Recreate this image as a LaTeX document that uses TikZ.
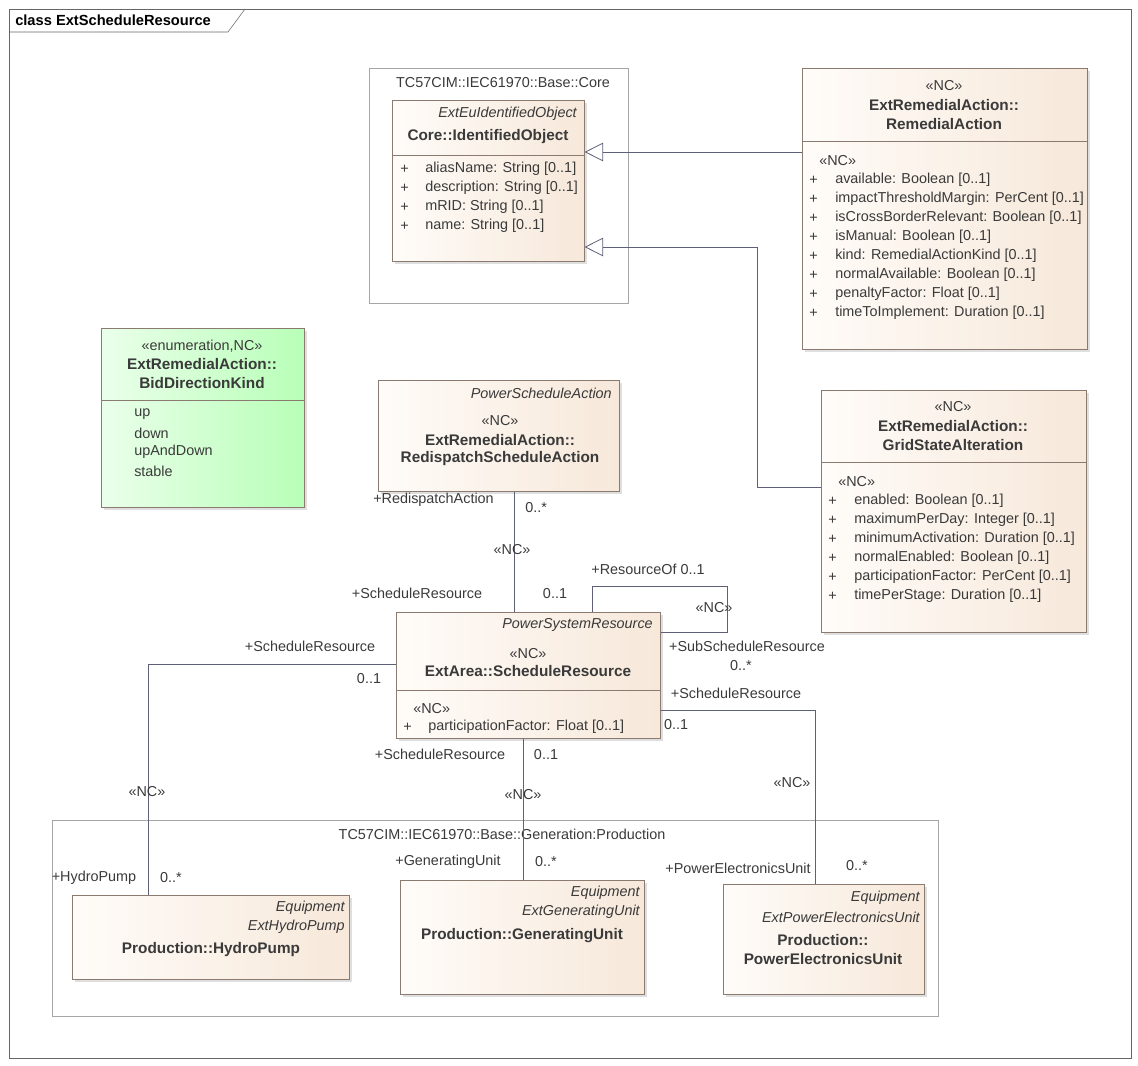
\documentclass[tikz,border=0pt]{standalone}
\usepackage{fontspec}
\setmainfont{Liberation Sans}
\usetikzlibrary{calc,arrows.meta,shadows}
\definecolor{umlline}{HTML}{5E6078}
\definecolor{umlbord}{HTML}{8A7A70}
\definecolor{umltext}{HTML}{3A3A3A}
\tikzset{
  cls/.style={draw=umlbord, left color=white!60!orange!6, right color=orange!25!brown!18, anchor=north west, inner sep=0pt, drop shadow={shadow xshift=2pt, shadow yshift=-2pt, opacity=0.25}},
  enum/.style={cls, left color=green!8, right color=green!28},
  pkg/.style={draw=gray!70, anchor=north west, inner sep=0pt},
  txt/.style={inner sep=0pt, text=umltext, font=\fontsize{10.8}{12}\selectfont},
  lbl/.style={txt, anchor=west},
  rlbl/.style={txt, anchor=east},
  ctr/.style={txt},
  bold/.style={txt, font=\fontsize{11.5}{13}\selectfont\bfseries},
  ital/.style={txt, anchor=east, font=\fontsize{10.8}{12}\selectfont\itshape},
  assoc/.style={draw=umlline, line width=0.6pt},
  gen/.style={assoc, -{Triangle[open, length=14pt, width=14pt, fill=white]}},
  divl/.style={draw=umlbord}
}
\begin{document}
\begin{tikzpicture}[x=0.75pt, y=-0.75pt]
\useasboundingbox (0,0) rectangle (1138,1066);
% frame
\draw[gray!80!black] (9,9) rectangle (1131,1058);
\draw[gray!80!black] (9,32) -- (228,32) -- (245,9);
\node[lbl, font=\fontsize{11}{12}\selectfont\bfseries, text=black] (title) at (15,20) {class ExtScheduleResource};

% packages
\node[pkg, minimum width=259*0.75pt, minimum height=235*0.75pt] (corepkg) at (369,68) {};
\node[ctr] (corelbl) at (503,83) {TC57CIM::IEC61970::Base::Core};
\node[pkg, minimum width=886*0.75pt, minimum height=196*0.75pt] (prodpkg) at (52,820) {};
\node[ctr] (prodlbl) at (502,834) {TC57CIM::IEC61970::Base::Generation:Production};

% IdentifiedObject
\node[cls, minimum width=192*0.75pt, minimum height=161*0.75pt] (io) at (392,100) {};
\draw[divl] (392,155) -- (584,155);
\node[ital] at (577,114) {ExtEuIdentifiedObject};
\node[bold] at (488,137) {Core::IdentifiedObject};
\foreach \y/\t in {169/aliasName: String [0..1], 188/description: String [0..1], 207/mRID: String [0..1], 226/name: String [0..1]}{
  \node[lbl] at (400,\y) {+};
  \node[lbl] at (425,\y) {\t};
}

% RemedialAction
\node[cls, minimum width=285*0.75pt, minimum height=281*0.75pt] (ra) at (802,68) {};
\draw[divl] (802,141) -- (1087,141);
\node[ctr] at (944,86) {«NC»};
\node[bold] at (944,105) {ExtRemedialAction::};
\node[bold] at (944,124) {RemedialAction};
\node[lbl] at (819,161) {«NC»};
\foreach \y/\t in {180/available: Boolean [0..1], 199/impactThresholdMargin: PerCent [0..1], 218/isCrossBorderRelevant: Boolean [0..1], 237/isManual: Boolean [0..1], 256/kind: RemedialActionKind [0..1], 275/normalAvailable: Boolean [0..1], 294/penaltyFactor: Float [0..1], 313/timeToImplement: Duration [0..1]}{
  \node[lbl] at (809,\y) {+};
  \node[lbl] at (835,\y) {\t};
}

% GridStateAlteration
\node[cls, minimum width=265*0.75pt, minimum height=242*0.75pt] (gsa) at (821,390) {};
\draw[divl] (821,462) -- (1086,462);
\node[ctr] at (953,407) {«NC»};
\node[bold] at (953,426) {ExtRemedialAction::};
\node[bold] at (953,445) {GridStateAlteration};
\node[lbl] at (838,482) {«NC»};
\foreach \y/\t in {501/enabled: Boolean [0..1], 520/maximumPerDay: Integer [0..1], 539/minimumActivation: Duration [0..1], 558/normalEnabled: Boolean [0..1], 577/participationFactor: PerCent [0..1], 596/timePerStage: Duration [0..1]}{
  \node[lbl] at (828,\y) {+};
  \node[lbl] at (854,\y) {\t};
}

% BidDirectionKind
\node[enum, minimum width=203*0.75pt, minimum height=179*0.75pt] (bdk) at (101,328) {};
\draw[divl] (101,400) -- (304,400);
\node[ctr] at (202,346) {«enumeration,NC»};
\node[bold] at (202,364) {ExtRemedialAction::};
\node[bold] at (202,383) {BidDirectionKind};
\foreach \y/\t in {414/up, 433/down, 452/upAndDown, 471/stable}{
  \node[lbl] at (134,\y) {\t};
}

% RedispatchScheduleAction
\node[cls, minimum width=241*0.75pt, minimum height=111*0.75pt] (rsa) at (378,380) {};
\node[ital] at (612,393) {PowerScheduleAction};
\node[ctr] at (500,421) {«NC»};
\node[bold] at (500,440) {ExtRemedialAction::};
\node[bold] at (500,459) {RedispatchScheduleAction};

% ScheduleResource
\node[cls, minimum width=264*0.75pt, minimum height=126*0.75pt] (sr) at (396,612) {};
\draw[divl] (396,690) -- (660,690);
\node[ital] at (653,625) {PowerSystemResource};
\node[ctr] at (528,654) {«NC»};
\node[bold] at (528,671) {ExtArea::ScheduleResource};
\node[lbl] at (413,709) {«NC»};
\node[lbl] at (403,727) {+};
\node[lbl] at (428,727) {participationFactor: Float [0..1]};

% HydroPump
\node[cls, minimum width=277*0.75pt, minimum height=84*0.75pt] (hp) at (72,895) {};
\node[ital] at (345,908) {Equipment};
\node[ital] at (345,927) {ExtHydroPump};
\node[bold] at (211,950) {Production::HydroPump};

% GeneratingUnit
\node[cls, minimum width=244*0.75pt, minimum height=114*0.75pt] (gu) at (400,880) {};
\node[ital] at (640,893) {Equipment};
\node[ital] at (640,912) {ExtGeneratingUnit};
\node[bold] at (522,936) {Production::GeneratingUnit};

% PowerElectronicsUnit
\node[cls, minimum width=201*0.75pt, minimum height=110*0.75pt] (peu) at (723,884) {};
\node[ital] at (920,898) {Equipment};
\node[ital] at (920,917) {ExtPowerElectronicsUnit};
\node[bold] at (823,940) {Production::};
\node[bold] at (823,959) {PowerElectronicsUnit};

% generalizations
\draw[gen] ($(ra.north west)+(0,84)$) -- ($(io.north east)+(0,52)$);
\draw[gen] ($(gsa.north west)+(0,97)$) -| (757,247) -- ($(io.north east)+(0,147)$);

% associations
\draw[assoc] ($(rsa.south west)+(136,0)$) -- ($(sr.north west)+(118,0)$);
\node[rlbl] at (494,500) {+RedispatchAction};
\node[lbl] at (525,508) {0..*};
\node[ctr] at (512,550) {«NC»};
\node[ctr] at (417,593) {+ScheduleResource};
\node[ctr] at (555,594) {0..1};

\draw[assoc] ($(sr.north west)+(196,0)$) |- (727,586) |- ($(sr.north east)+(0,20)$);
\node[ctr] at (648,569) {+ResourceOf 0..1};
\node[ctr] at (714,608) {«NC»};
\node[ctr] at (747,646) {+SubScheduleResource};
\node[ctr] at (741,666) {0..*};

\draw[assoc] ($(sr.north west)+(0,52)$) -| ($(hp.north west)+(76,0)$);
\node[ctr] at (310,646) {+ScheduleResource};
\node[ctr] at (369,679) {0..1};
\node[ctr] at (147,792) {«NC»};
\node[ctr] at (94,878) {+HydroPump};
\node[ctr] at (171,878) {0..*};

\draw[assoc] ($(sr.south west)+(127,0)$) -- ($(gu.north west)+(123,0)$);
\node[ctr] at (440,754) {+ScheduleResource};
\node[ctr] at (546,755) {0..1};
\node[ctr] at (523,795) {«NC»};
\node[ctr] at (448,862) {+GeneratingUnit};
\node[ctr] at (546,862) {0..*};

\draw[assoc] ($(sr.north east)+(0,98)$) -| ($(peu.north west)+(92,0)$);
\node[ctr] at (736,693) {+ScheduleResource};
\node[ctr] at (676,725) {0..1};
\node[ctr] at (792,783) {«NC»};
\node[ctr] at (738,868) {+PowerElectronicsUnit};
\node[ctr] at (857,866) {0..*};
\end{tikzpicture}
\end{document}
